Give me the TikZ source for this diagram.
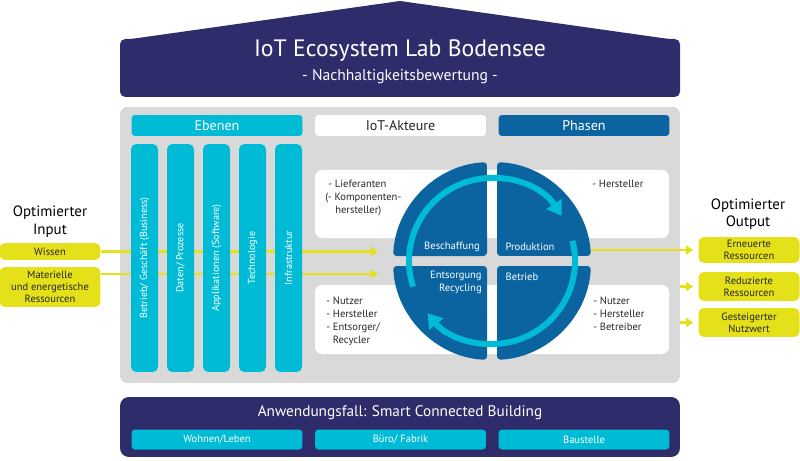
\documentclass[tikz,border=0pt]{standalone}
\usepackage{fontspec}
\setmainfont{PT Sans}
\usetikzlibrary{arrows.meta}

\definecolor{navy}{RGB}{46,44,106}
\definecolor{lgray}{RGB}{217,217,217}
\definecolor{ecyan}{RGB}{0,187,214}
\definecolor{pblue}{RGB}{11,100,160}
\definecolor{iyellow}{RGB}{228,224,25}

\tikzset{
  hdr/.style={rounded corners=2pt, minimum width=3.42cm, minimum height=0.42cm, inner sep=0pt, font=\fontsize{8}{9}\selectfont},
  layer/.style={fill=ecyan, rounded corners=3pt, rotate=90, minimum width=4.56cm, minimum height=0.54cm, inner sep=0pt, text=white, font=\fontsize{5.8}{7}\selectfont},
  usecase/.style={fill=ecyan, rounded corners=2pt, minimum width=3.42cm, minimum height=0.4cm, inner sep=0pt, text=white, font=\fontsize{6}{7}\selectfont},
  iobox/.style={fill=iyellow, rounded corners=3pt, minimum width=2.02cm, inner sep=0pt, align=center, text=black!85, font=\fontsize{6}{7}\selectfont},
  actors/.style={anchor=north west, inner sep=0pt, align=left, text=black!85, font=\fontsize{6}{7.4}\selectfont},
  phase/.style={text=white, inner sep=0pt, font=\fontsize{6}{7.4}\selectfont},
  yarrow/.style={draw=iyellow, line width=1.7pt, -{Triangle[width=5pt,length=4pt]}},
  ring/.style={draw=ecyan, line width=3.4pt, -{Triangle[width=10pt,length=8pt]}},
}

\begin{document}
\begin{tikzpicture}[x=0.02cm,y=0.02cm]
\useasboundingbox (0,0) rectangle (800,460);

% roof
\fill[navy] (124,420) -- (400,459) -- (676,420) -- cycle;
\fill[navy, rounded corners=3pt] (120,363) rectangle (680,421);
\node[text=white, font=\fontsize{13.5}{16}\selectfont] (title) at (400,409) {IoT Ecosystem Lab Bodensee};
\node[text=white, font=\fontsize{8.9}{10}\selectfont] (subtitle) at (400,383) {- Nachhaltigkeitsbewertung -};

% main area
\node[fill=lgray, rounded corners=4pt, minimum width=11.2cm, minimum height=5.52cm, inner sep=0pt] (main) at (400,215) {};
\node[hdr, fill=ecyan, text=white] (ebenen) at (217,334.5) {Ebenen};
\node[hdr, fill=white, text=black!85] (akteure) at (400.5,334.5) {IoT-Akteure};
\node[hdr, fill=pblue, text=white] (phasen) at (584,334.5) {Phasen};
\fill[white, rounded corners=4pt] (315,222) rectangle (669,290);
\fill[white, rounded corners=4pt] (315,106) rectangle (669,175);

% input
\node[align=center, font=\fontsize{8.5}{10}\selectfont] (inlabel) at (50,238.5) {Optimierter\\Input};
\node[iobox, minimum height=0.34cm] (wissen) at (50,208.5) {Wissen};
\node[iobox, minimum height=0.8cm] (materiell) at (50,173) {Materielle\\und energetische\\Ressourcen};
\coordinate (inend) at (378,0);
\coordinate (in2) at (378,186);
\draw[yarrow] (wissen.east) -- (wissen.east -| inend);
\draw[yarrow] (in2 -| materiell.east) -- (in2);

% Ebenen
\node[layer] (business) at (144.5,202) {Betrieb/ Geschäft (Business)};
\node[layer] (daten) at (180.5,202) {Daten/ Prozesse};
\node[layer] (software) at (216.5,202) {Applikationen (Software)};
\node[layer] (technologie) at (252.5,202) {Technologie};
\node[layer] (infra) at (288.5,202) {Infrastruktur};

% Akteure
\node[actors] (lieferanten) at (325,280) {\hspace{1.7pt}- Lieferanten\\(- Komponenten-\\\hspace{5.7pt}hersteller)};
\node[actors] (hersteller) at (592,280) {- Hersteller};
\node[actors] (entsorger) at (326,163) {- Nutzer\\- Hersteller\\- Entsorger/\\\phantom{- }Recycler};
\node[actors] (betreiber) at (593,163) {- Nutzer\\- Hersteller\\- Betreiber};

% Phasen
\node[circle, minimum size=3.96cm, inner sep=0pt] (phases) at (492,199) {};
\fill[pblue, rounded corners=2pt] (497,204) -- (497,297.9) arc[start angle=87.1, end angle=2.9, radius=99] -- cycle;
\fill[pblue, rounded corners=2pt] (487,204) -- (393.1,204) arc[start angle=177.1, end angle=92.9, radius=99] -- cycle;
\fill[pblue, rounded corners=2pt] (487,194) -- (487,100.1) arc[start angle=267.1, end angle=182.9, radius=99] -- cycle;
\fill[pblue, rounded corners=2pt] (497,194) -- (590.9,194) arc[start angle=-2.9, end angle=-87.1, radius=99] -- cycle;
\draw[ring] (phases.center) ++(198:83) arc[start angle=198, end angle=33, radius=83];
\draw[ring] (phases.center) ++(14:83) arc[start angle=14, end angle=-141, radius=83];
\node[phase] (beschaffung) at (452,213) {Beschaffung};
\node[phase] (produktion) at (530,213) {Produktion};
\node[phase, align=right, anchor=east] (recycling) at (482,178) {Entsorgung\\Recycling};
\node[phase] (betrieb) at (522,183) {Betrieb};

% output
\node[align=center, font=\fontsize{8.5}{10}\selectfont] (outlabel) at (748,246) {Optimierter\\Output};
\node[iobox, minimum height=0.52cm] (erneuert) at (749,210) {Erneuerte\\Ressourcen};
\node[iobox, minimum height=0.58cm] (reduziert) at (749,173.5) {Reduzierte\\Ressourcen};
\node[iobox, minimum height=0.58cm] (nutzwert) at (749,137.5) {Gesteigerter\\Nutzwert};
\draw[yarrow, shorten >=2.8pt] (phases.east |- erneuert.west) -- (erneuert.west);
\draw[yarrow, shorten >=2.8pt] (reduziert.west -| main.east) -- (reduziert.west);
\draw[yarrow, shorten >=2.8pt] (nutzwert.west -| main.east) -- (nutzwert.west);

% Anwendungsfall
\node[fill=navy, rounded corners=5pt, minimum width=11.2cm, minimum height=1.2cm, inner sep=0pt] (anwendung) at (400,33) {};
\node[text=white, font=\fontsize{8.7}{10}\selectfont] (anwtitle) at (400,47) {Anwendungsfall: Smart Connected Building};
\node[usecase] (wohnen) at (217,20.5) {Wohnen/Leben};
\node[usecase] (buero) at (400.5,20.5) {Büro/ Fabrik};
\node[usecase] (baustelle) at (584,20.5) {Baustelle};
\end{tikzpicture}
\end{document}
